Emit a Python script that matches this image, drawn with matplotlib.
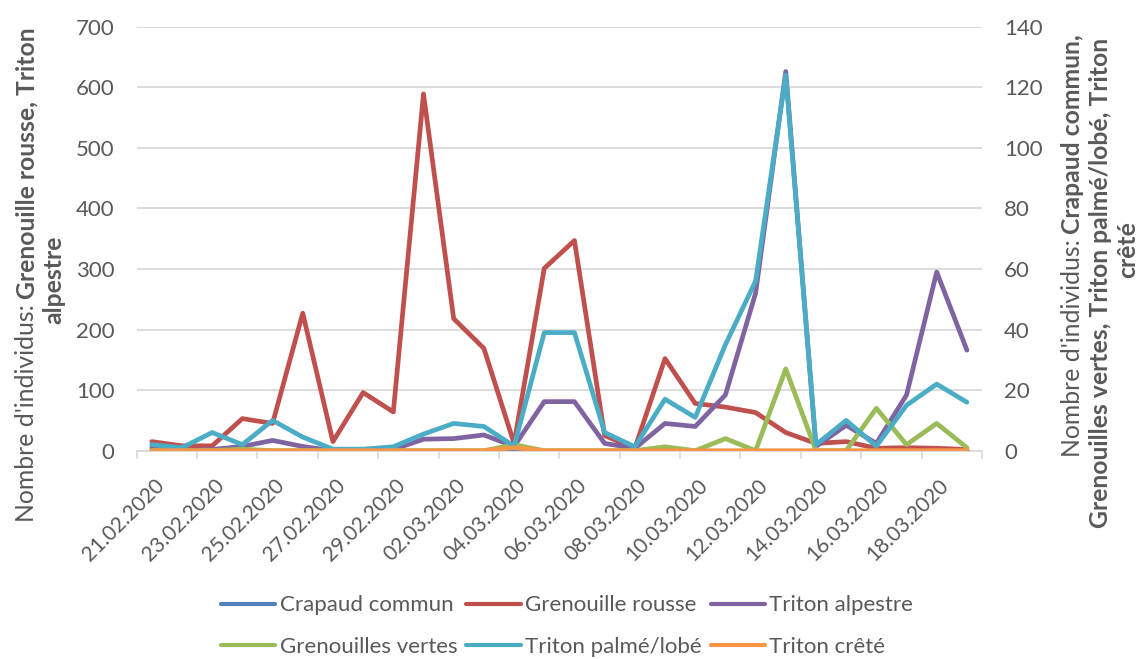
import numpy as np
import matplotlib
matplotlib.use("Agg")
import matplotlib.pyplot as plt
from matplotlib.transforms import IdentityTransform, ScaledTranslation

plt.rcParams['font.family'] = ['Lato', 'DejaVu Sans']

# data, one value per day from 21.02.2020 to 19.03.2020
dates = ['21.02.2020', '22.02.2020', '23.02.2020', '24.02.2020', '25.02.2020',
         '26.02.2020', '27.02.2020', '28.02.2020', '29.02.2020', '01.03.2020',
         '02.03.2020', '03.03.2020', '04.03.2020', '05.03.2020', '06.03.2020',
         '07.03.2020', '08.03.2020', '09.03.2020', '10.03.2020', '11.03.2020',
         '12.03.2020', '13.03.2020', '14.03.2020', '15.03.2020', '16.03.2020',
         '17.03.2020', '18.03.2020', '19.03.2020']

# left axis
grenouille_rousse = [15, 8, 8, 53, 45, 227, 15, 96, 64, 589, 218, 169, 12, 301, 347,
                     25, 4, 152, 78, 72, 63, 30, 12, 15, 4, 5, 4, 2]
triton_alpestre = [5, 0, 2, 7, 17, 7, 0, 0, 2, 19, 20, 26, 7, 81, 81,
                   12, 4, 45, 40, 92, 260, 626, 7, 42, 12, 92, 295, 166]
# right axis
crapaud_commun = [0] * 28
grenouilles_vertes = [0, 0, 0, 0.5, 0, 0, 0, 0, 0, 0, 0, 0, 2, 0, 0,
                      0, 0, 1.3, 0, 4, 0, 27, 0, 0, 14, 2, 9, 1]
triton_palme = [2, 1, 6, 2, 10, 4.5, 0.5, 0.5, 1.3, 5.5, 9, 8, 1.5, 39, 39,
                6, 1.3, 17, 11, 35, 56, 124, 2, 10, 1.5, 15, 22, 16]
triton_crete = [0, 0, 0, 0, 0, 0, 0, 0, 0, 0, 0, 0, 1, 0, 0,
                0, 0, 0, 0, 0, 0, 0, 0, 0, 0, 0, 0, 0]

W, H = 1141, 659
TXT = '#595959'
GRID = '#D9D9D9'
FS = 16
TFS = 17.8
LW = 3.4

fig = plt.figure(figsize=(W / 100, H / 100), dpi=100)
ax = fig.add_axes([136.7 / W, 1 - 450.7 / H, (982 - 136.7) / W, (450.7 - 26.7) / H])
ax2 = ax.twinx()

x = np.arange(len(dates))
kw = dict(lw=LW, solid_capstyle='round', solid_joinstyle='round')
l_red, = ax.plot(x, grenouille_rousse, color='#C0504D', label='Grenouille rousse', **kw)
l_pur, = ax.plot(x, triton_alpestre, color='#8064A2', label='Triton alpestre', **kw)
l_blu, = ax2.plot(x, crapaud_commun, color='#4F81BD', label='Crapaud commun', **kw)
l_grn, = ax2.plot(x, grenouilles_vertes, color='#9BBB59', label='Grenouilles vertes', **kw)
l_cya, = ax2.plot(x, triton_palme, color='#4BACC6', label='Triton palmé/lobé', **kw)
l_ora, = ax2.plot(x, triton_crete, color='#F79646', label='Triton crêté', **kw)

ax.set_xlim(-0.5, 27.5)
ax.set_ylim(0, 700)
ax2.set_ylim(0, 140)
ax.set_yticks(range(0, 701, 100))
ax2.set_yticks(range(0, 141, 20))
ax.yaxis.grid(True, color=GRID, lw=1.3)
ax.set_axisbelow(True)
for s in ['top', 'left', 'right']:
    ax.spines[s].set_visible(False)
for s in ax2.spines.values():
    s.set_visible(False)
ax.spines['bottom'].set_color(GRID)
ax.spines['bottom'].set_linewidth(1.3)

ax.tick_params(axis='y', length=0, pad=16, labelsize=FS, labelcolor=TXT)
ax2.tick_params(axis='y', length=0, pad=16, labelsize=FS, labelcolor=TXT)

ax.set_xticks(x[::2])
ax.set_xticklabels(dates[::2], rotation=45, ha='right', va='center',
                   rotation_mode='anchor')
ax.set_xticks(np.arange(-0.5, 28, 2), minor=True)
ax.tick_params(axis='x', which='major', length=0, pad=23, labelsize=15, labelcolor=TXT)
ax.tick_params(axis='x', which='minor', length=5.5, width=1.2, color=GRID)
for lab in ax.get_xticklabels():
    lab.set_transform(lab.get_transform() + ScaledTranslation(0.09, 0, fig.dpi_scale_trans))

# legend, row by row
handles = [l_blu, l_red, l_pur, l_grn, l_cya, l_ora]
order = [0, 3, 1, 4, 2, 5]
leg = fig.legend([handles[i] for i in order], [handles[i].get_label() for i in order],
                 loc='center', bbox_to_anchor=(0.497, 0.05), ncol=3, frameon=False,
                 fontsize=FS, handlelength=2.45, handletextpad=0.2, columnspacing=0.4,
                 labelspacing=0.95)
for t in leg.get_texts():
    t.set_color(TXT)
for h in leg.get_lines():
    h.set_linewidth(3.0)

# axis titles with mixed weights
fig.canvas.draw()
rend = fig.canvas.get_renderer()


def vline(xc, y_start, parts, size=TFS, gap=5):
    y = H - y_start
    for text, weight in parts:
        t = fig.text(xc, y, text, rotation=90, ha='center', va='bottom',
                     fontsize=size, fontweight=weight, color=TXT,
                     transform=IdentityTransform())
        bb = t.get_window_extent(rend)
        y = bb.y1 + gap


def vcenter(xc, y_mid, text, size=TFS, weight='bold'):
    fig.text(xc, H - y_mid, text, rotation=90, ha='center', va='center',
             fontsize=size, fontweight=weight, color=TXT, transform=IdentityTransform())


vline(27, 522, [("Nombre d'individus:", 'normal'), ('Grenouille rousse, Triton', 'bold')])
vcenter(54, 280, 'alpestre')
vline(1072, 457, [("Nombre d'individus:", 'normal'), ('Crapaud commun,', 'bold')])
vline(1101, 528, [('Grenouilles vertes, Triton palmé/lobé, Triton', 'bold')])
vcenter(1128, 250, 'crêté')

fig.savefig('out.png', dpi=100)
